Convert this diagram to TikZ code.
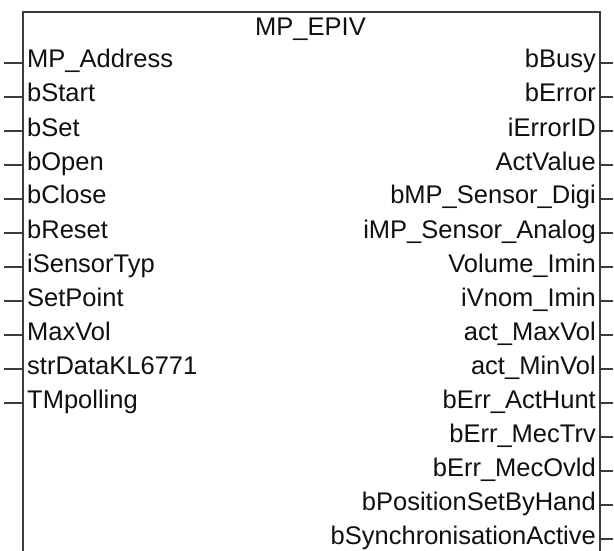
\documentclass[tikz,border=0pt]{standalone}
\usepackage{fontspec}
\setmainfont{Liberation Sans}
\usepackage{xcolor}
\usepackage{tikz}
\usetikzlibrary{positioning,calc}
\definecolor{frame}{HTML}{3C3C3C}
\definecolor{ink}{HTML}{101010}
\newcommand{\pinfont}{\fontsize{25.5}{30}\selectfont}

\begin{document}
\begin{tikzpicture}[
  x=1pt,y=-1pt,
  blk/.style={draw=frame,line width=2pt,fill=white,anchor=north west,
              minimum width=577pt,minimum height=640pt,inner sep=0pt},
  pinl/.style={anchor=base west,inner sep=0pt,font=\pinfont,text=ink},
  pinr/.style={anchor=base east,inner sep=0pt,font=\pinfont,text=ink},
  wire/.style={draw=frame,line width=1.6pt}
]
\useasboundingbox (0,0) rectangle (614,551);
\clip (0,0) rectangle (614,551);
\node[blk] (fb) at (22,11) {};
\node[anchor=base,inner sep=0pt,font=\pinfont,text=ink] (title) at (310.5,36) {MP\_EPIV};
% inputs
\foreach \name [count=\i] in {MP\_Address,bStart,bSet,bOpen,bClose,bReset,
    iSensorTyp,SetPoint,MaxVol,strDataKL6771,TMpolling} {
  \node[pinl] (in\i) at (27,{68+34*(\i-1)}) {\name};
  \coordinate (inend\i) at (4,{63+34*(\i-1)});
  \draw[wire] (inend\i) -- (fb.west |- inend\i);
}
% outputs
\foreach \name [count=\i] in {bBusy,bError,iErrorID,ActValue,bMP\_Sensor\_Digi,
    iMP\_Sensor\_Analog,Volume\_Imin,iVnom\_Imin,act\_MaxVol,act\_MinVol,
    bErr\_ActHunt,bErr\_MecTrv,bErr\_MecOvld,bPositionSetByHand,
    bSynchronisationActive} {
  \node[pinr] (out\i) at (596,{68+34*(\i-1)}) {\name};
  \coordinate (outend\i) at (613,{63+34*(\i-1)});
  \draw[wire] (fb.east |- outend\i) -- (outend\i);
}
\end{tikzpicture}
\end{document}
